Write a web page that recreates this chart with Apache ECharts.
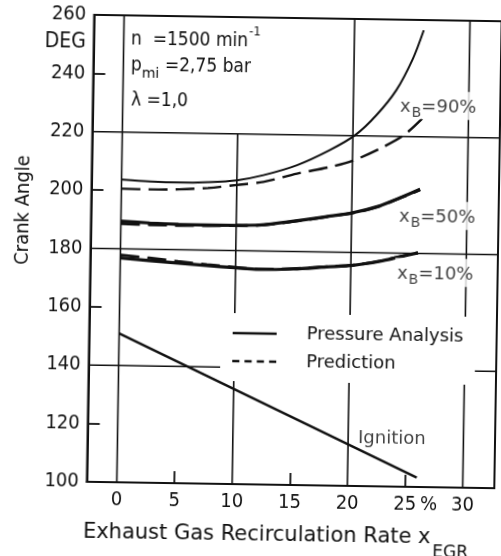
<!DOCTYPE html>
<html>
<head>
<meta charset="utf-8">
<script src="https://cdn.jsdelivr.net/npm/echarts@6/dist/echarts.min.js"></script>
<style>
  html, body { margin: 0; padding: 0; background: #fff; overflow: hidden; }
  /* the printed figure sits slightly skewed on the page */
  #chart { width: 501px; height: 556px; transform: rotate(0.9deg); transform-origin: 293px 250px; }
</style>
</head>
<body>
<div id="chart"></div>
<script>
// Crank angle of 10 / 50 / 90 % mass fraction burned and of ignition
// versus exhaust gas recirculation rate.

// axis ranges and ticks
const xMin = -2.6, xMax = 32.74;
const yMin = 100, yMax = 260;
const xLabelValues = [0, 5, 10, 15, 20, 25, 30];
const xTickValues = [5, 15, 25];
const yTickValues = [120, 160, 200, 240];

// reference grid: verticals (x, top end) and horizontals
const gridX = [0, 10, 20, 30];
const gridXTop = [260, 220, 260, 260];   // the 10 % line stops under the operating-point text
const gridY = [140, 180, 220];

// x_B = 90 %
const p90X = [0, 2.5, 5, 7.5, 10, 12.3, 15.2, 18, 20.2, 22, 23.7, 25.1, 26];
const p90Y = [203.7, 203.2, 203.0, 203.3, 204.1, 206.0, 209.6, 214.9, 220.2, 227.1, 235.8, 246.7, 256.5];
const c90X = [0, 2.5, 5, 7.5, 10, 12.3, 15.2, 18, 20, 22.4, 24.4, 26];
const c90Y = [200.6, 200.5, 200.7, 201.3, 202.5, 203.7, 206.7, 209.1, 211.4, 215.8, 220.4, 226.3];

// x_B = 50 %
const p50X = [0, 2.5, 5, 7.5, 10, 12, 15, 17.8, 20.1, 22.2, 24.2, 25.9];
const p50Y = [189.5, 189.0, 188.7, 188.6, 188.7, 188.9, 190.4, 192.1, 193.6, 195.8, 199.0, 202.0];
const c50Y = [188.6, 188.4, 188.3, 188.4, 188.6, 188.8, 190.3, 192.0, 193.5, 195.7, 198.9, 201.8];

// x_B = 10 %
const p10X = [0, 2.5, 5, 7.5, 10, 12, 15, 17.9, 20.2, 22.5, 24.3, 25.8];
const p10Y = [176.9, 176.1, 175.4, 174.7, 174.1, 173.7, 174.0, 174.9, 175.6, 177.1, 178.8, 180.2];
const c10Y = [177.9, 177.0, 176.0, 175.1, 174.3, 173.8, 174.1, 175.0, 175.7, 177.2, 178.9, 180.2];

// ignition timing
const ignX = [0, 26];
const ignY = [151.0, 103.2];

// curve annotations
const burnPct = [90, 50, 10];
const burnLabelX = [23.88, 23.94, 23.84];
const burnLabelY = [230.8, 193.1, 173.6];
const ignLabelX = [20.86];
const ignLabelY = [116.5];

const INK = '#111';
const SANS = 'DejaVu Sans';
const COND = 'DejaVu Sans Condensed';

const pairs = (xs, ys) => xs.map((x, i) => [x, ys[i]]);

function curve(name, xs, ys, width, dashed) {
  return {
    type: 'line', name: name, data: pairs(xs, ys),
    symbol: 'none', smooth: 0.3, silent: true, z: 3,
    emphasis: { disabled: true },
    itemStyle: { color: INK },
    lineStyle: { color: INK, width: width, type: dashed ? [19, 8] : 'solid', cap: 'butt' }
  };
}

function gridSeries(name, data) {
  return {
    type: 'line', name: name, data: data, symbol: 'none', silent: true, z: 1,
    clip: false, emphasis: { disabled: true },
    lineStyle: { color: INK, width: 1.6 }
  };
}

const gridLines = [];
gridX.forEach((x, i) => gridLines.push(gridSeries('grid x ' + x, [[x, yMin], [x, gridXTop[i]]])));
gridY.forEach(y => gridLines.push(gridSeries('grid y ' + y, [[xMin, y], [xMax, y]])));

const txt = { color: INK, fontFamily: SANS };

const option = {
  animation: false,
  backgroundColor: '#fff',
  grid: { left: 90.5, right: 3, top: 18, bottom: 71, show: true, borderColor: INK, borderWidth: 2 },
  xAxis: {
    type: 'value', min: xMin, max: xMax,
    axisLine: { show: true, onZero: false, lineStyle: { color: INK, width: 2 } },
    splitLine: { show: false },
    axisTick: { show: true, inside: true, length: 12, customValues: xTickValues, lineStyle: { color: INK, width: 1.8 } },
    axisLabel: { customValues: xLabelValues, margin: 8, fontFamily: COND, fontSize: 20, color: INK }
  },
  yAxis: {
    type: 'value', min: yMin, max: yMax, interval: 20,
    axisLine: { show: true, onZero: false, lineStyle: { color: INK, width: 2 } },
    splitLine: { show: false },
    axisTick: { show: true, inside: true, length: 12, customValues: yTickValues, lineStyle: { color: INK, width: 1.8 } },
    axisLabel: { margin: 8, fontFamily: COND, fontSize: 20, color: INK }
  },
  legend: {
    orient: 'vertical', left: 222, top: 314, z: 30,
    padding: [10, 12, 10, 12], backgroundColor: '#fff',
    itemWidth: 44, itemHeight: 20, itemGap: 8, selectedMode: false,
    textStyle: { color: INK, fontFamily: SANS, fontSize: 18, lineHeight: 20, padding: [0, 0, 0, 25] },
    data: [
      { name: 'Pressure Analysis', icon: 'path://M0,0H44V2.6H0Z' },
      { name: 'Prediction', icon: 'path://M0,0h7v2.6h-7z M12,0h7v2.6h-7z M24,0h7v2.6h-7z M36,0h7v2.6h-7z' }
    ]
  },
  series: gridLines.concat([
    curve('Pressure Analysis', p90X, p90Y, 2, false),
    curve('Prediction', c90X, c90Y, 2.4, true),
    curve('Pressure Analysis', p50X, p50Y, 3.2, false),
    curve('Prediction', p50X, c50Y, 2.8, true),
    curve('Pressure Analysis', p10X, p10Y, 3.2, false),
    curve('Prediction', p10X, c10Y, 2.8, true),
    curve('Ignition', ignX, ignY, 2.4, false),
    {
      type: 'scatter', name: 'burn labels', z: 20, silent: true, symbolSize: 0,
      data: pairs(burnLabelX, burnLabelY),
      label: {
        show: true, position: 'right', distance: 0,
        backgroundColor: '#fff', padding: [6, 4, 2, 2],
        formatter: p => '{x|x}{b|B}{t|=' + burnPct[p.dataIndex] + '%}',
        rich: {
          x: Object.assign({ fontSize: 18, lineHeight: 20 }, txt),
          b: Object.assign({ fontSize: 14, lineHeight: 14, padding: [12, 0, 0, 1] }, txt),
          t: Object.assign({ fontSize: 18, lineHeight: 20 }, txt)
        }
      }
    },
    {
      type: 'scatter', name: 'ignition label', z: 20, silent: true, symbolSize: 0,
      data: pairs(ignLabelX, ignLabelY),
      label: {
        show: true, position: 'right', distance: 0,
        formatter: 'Ignition', color: INK, fontFamily: SANS, fontSize: 18
      }
    }
  ]),
  graphic: [
    {
      type: 'text', x: 127.7, y: 42.1, silent: true,
      style: {
        text: '{m|n  =1500 min}{s|-1}', verticalAlign: 'middle', align: 'left',
        rich: {
          m: { fontFamily: COND, fontSize: 19, lineHeight: 20, fill: INK },
          s: { fontFamily: COND, fontSize: 13, lineHeight: 13, padding: [0, 0, 19, 1], fill: INK }
        }
      }
    },
    {
      type: 'text', x: 128.1, y: 68.3, silent: true,
      style: {
        text: '{m|p}{s|mi}{m| =2,75 bar}', verticalAlign: 'middle', align: 'left',
        rich: {
          m: { fontFamily: COND, fontSize: 19, lineHeight: 20, fill: INK },
          s: { fontFamily: SANS, fontSize: 14, lineHeight: 14, padding: [16, 0, 0, 0], fill: INK }
        }
      }
    },
    {
      type: 'text', x: 128.7, y: 103.2, silent: true,
      style: { text: 'λ =1,0', verticalAlign: 'middle', align: 'left', font: '19px "DejaVu Sans Condensed"', fill: INK }
    },
    {
      type: 'text', x: 82.7, y: 45.1, silent: true,
      style: { text: 'DEG', verticalAlign: 'middle', align: 'right', font: '21px "DejaVu Sans Condensed"', fill: INK }
    },
    {
      type: 'text', x: 22.4, y: 214.2, rotation: Math.PI / 2, silent: true,
      style: { text: 'Crank Angle', verticalAlign: 'middle', align: 'center', font: '20px "DejaVu Sans Condensed"', fill: INK }
    },
    {
      type: 'text', x: 87.4, y: 535.5, silent: true,
      style: {
        text: '{m|Exhaust Gas Recirculation Rate x}{s|EGR}', verticalAlign: 'middle', align: 'left',
        rich: {
          m: { fontFamily: SANS, fontSize: 21, lineHeight: 22, fill: INK },
          s: { fontFamily: SANS, fontSize: 17, lineHeight: 17, padding: [30, 0, 0, 2], fill: INK }
        }
      }
    },
    {
      type: 'text', x: 432.5, y: 502.4, silent: true,
      style: { text: '%', verticalAlign: 'middle', align: 'center', font: '20px "DejaVu Sans Condensed"', fill: INK }
    }
  ]
};

const chart = echarts.init(document.getElementById('chart'), null, { renderer: 'canvas' });
chart.setOption(option);
</script>
</body>
</html>
